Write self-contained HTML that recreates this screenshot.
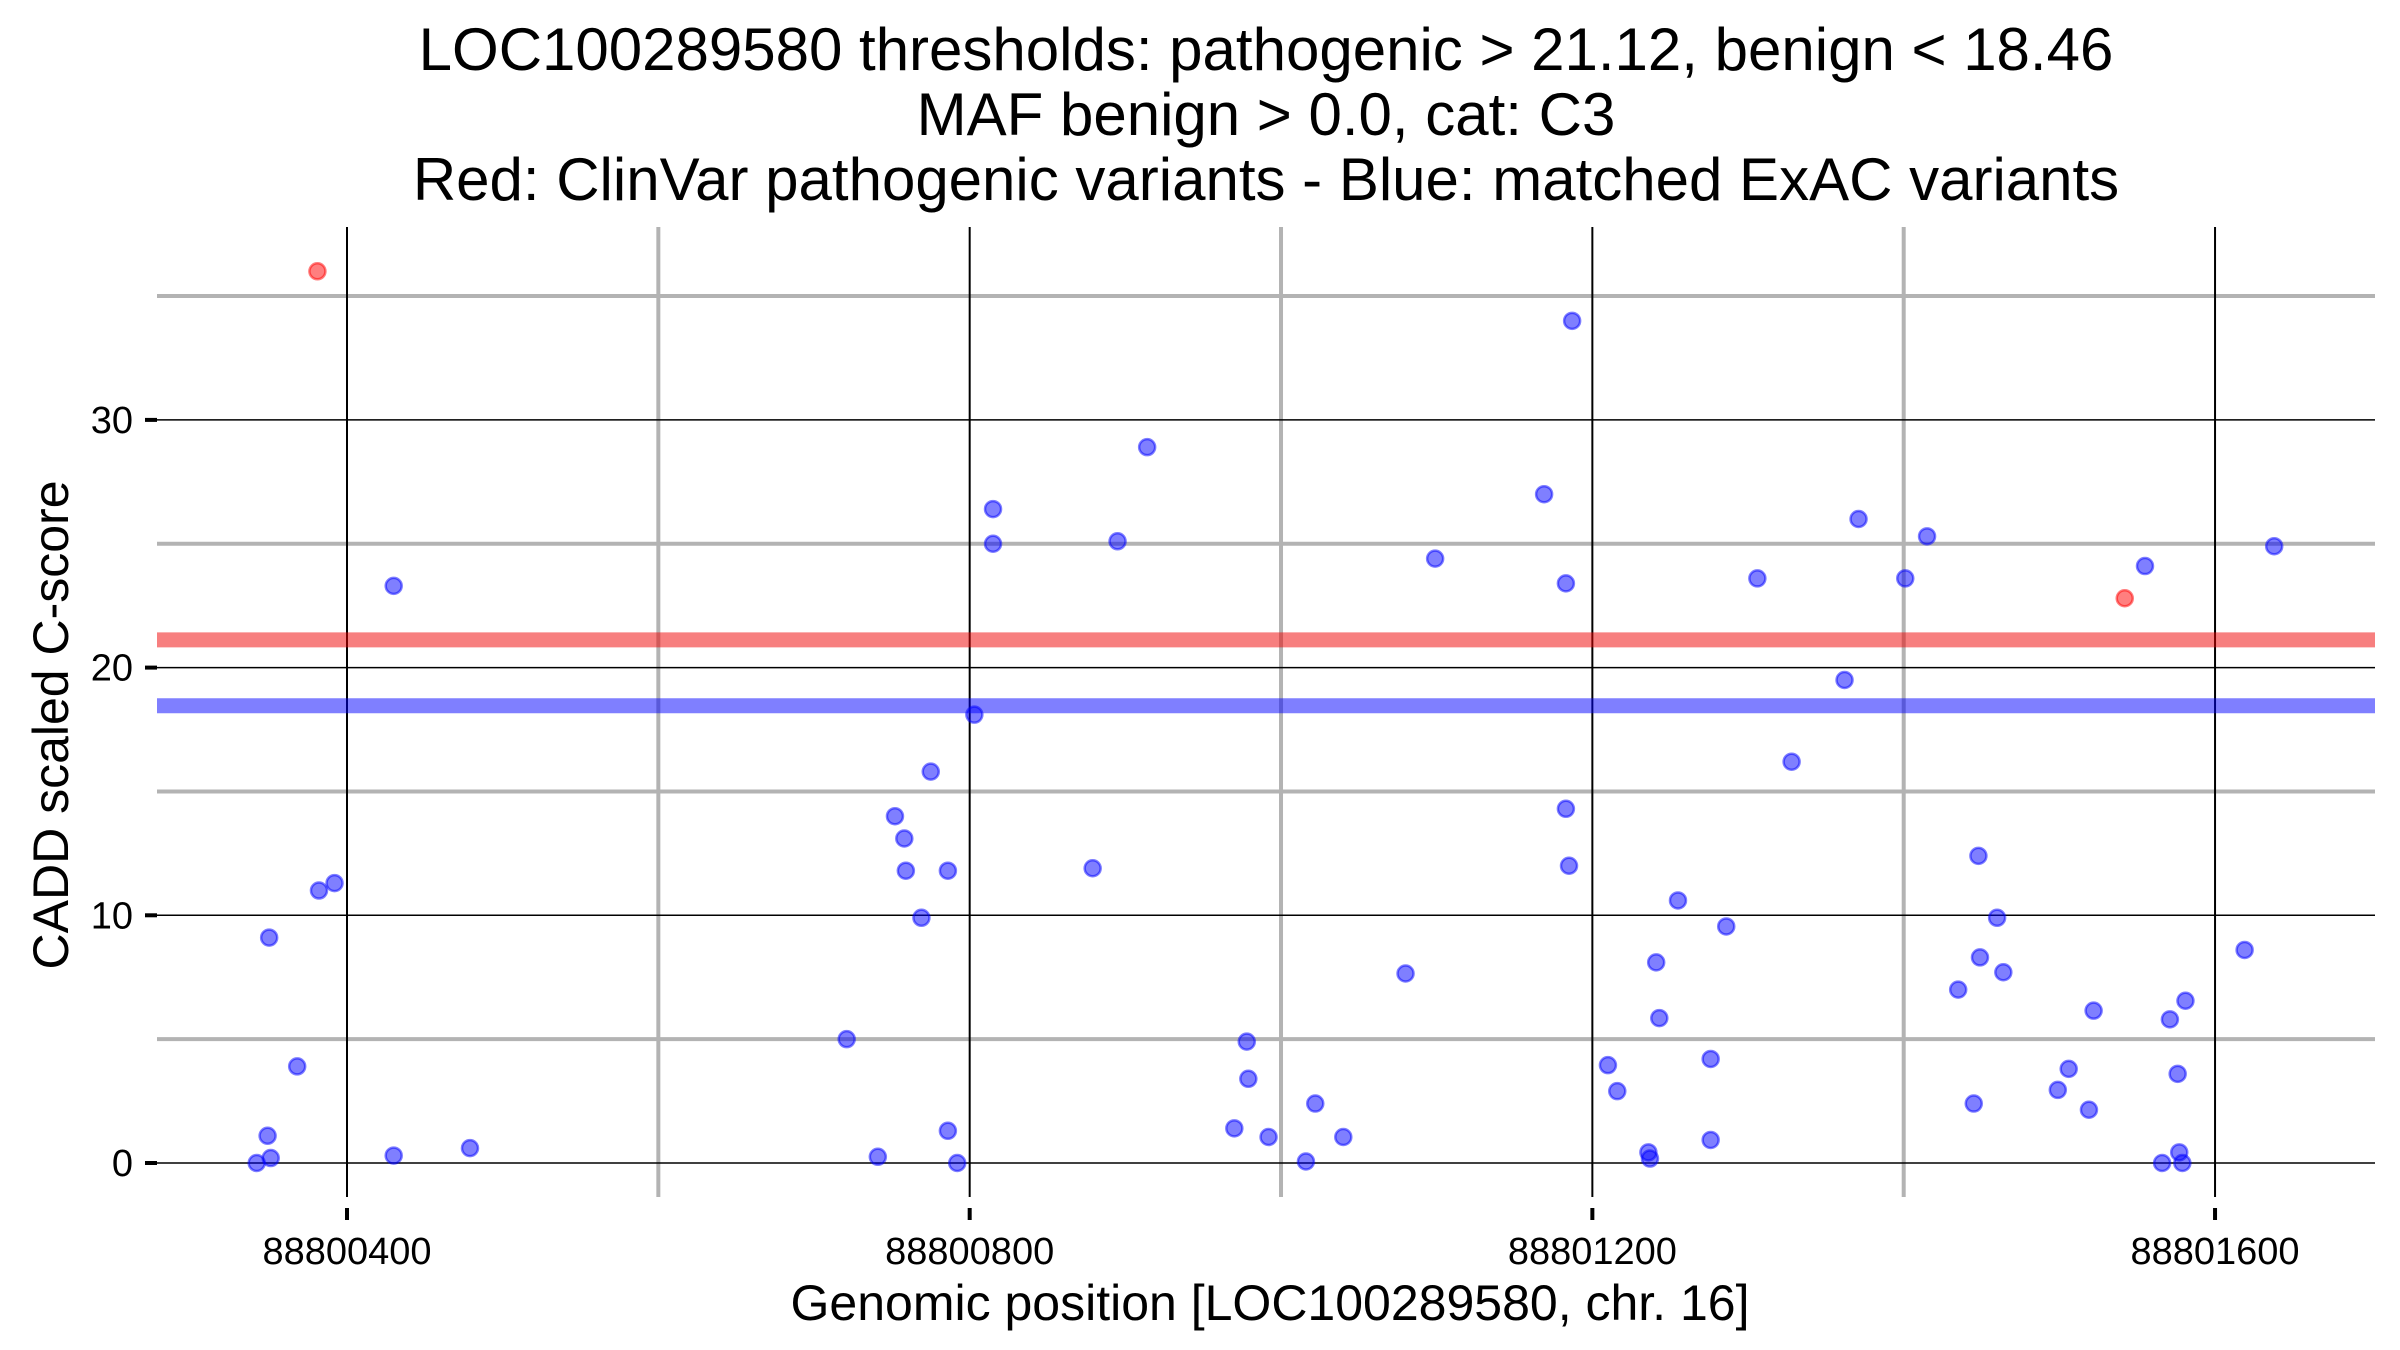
<!DOCTYPE html>
<html><head><meta charset="utf-8"><style>
html,body{margin:0;padding:0;background:#fff;}
svg{display:block;font-family:"Liberation Sans",Arial,sans-serif;}
</style></head><body>
<svg id="chart" width="2400" height="1350" viewBox="0 0 2400 1350" xmlns="http://www.w3.org/2000/svg">
<g id="title" font-size="60" text-anchor="middle" fill="#000">
<text x="1266" y="70">LOC100289580 thresholds: pathogenic &gt; 21.12, benign &lt; 18.46</text>
<text x="1266" y="135">MAF benign &gt; 0.0, cat: C3</text>
<text x="1266" y="200">Red: ClinVar pathogenic variants - Blue: matched ExAC variants</text>
</g>
<g id="grid"></g>
<g id="thresholds"></g>
<g id="points"></g>
<g id="axes"></g>
<text x="1270" y="1320" font-size="50" text-anchor="middle">Genomic position [LOC100289580, chr. 16]</text>
<text transform="translate(68,725) rotate(-90)" font-size="50" text-anchor="middle">CADD scaled C-score</text>
</svg>
<script>
const xTicks = [88800400, 88800800, 88801200, 88801600];
const xMinor = [88800600, 88801000, 88801400];
const yTicks = [0, 10, 20, 30];
const yMinor = [5, 15, 25, 35];
const thresholdPathogenic = 21.12;
const thresholdBenign = 18.46;
const bluePos = [88800342,88800349,88800351,88800350,88800368,88800382,88800392,88800430,88800430,88800479,88800721,88800741,88800752,88800758,88800759,88800769,88800775,88800786,88800786,88800792,88800803,88800815,88800815,88800879,88800895,88800914,88800970,88800978,88800979,88800992,88801016,88801022,88801040,88801080,88801099,88801169,88801183,88801183,88801185,88801187,88801210,88801216,88801236,88801237,88801241,88801243,88801255,88801276,88801276,88801286,88801306,88801328,88801362,88801371,88801401,88801415,88801435,88801445,88801448,88801449,88801460,88801464,88801499,88801506,88801519,88801522,88801555,88801566,88801571,88801576,88801577,88801579,88801581,88801619,88801638];
const blueScore = [0,1.1,0.2,9.1,3.9,11.0,11.3,23.3,0.3,0.6,5.0,0.25,14.0,13.1,11.8,9.9,15.8,1.3,11.8,0,18.1,26.4,25.0,11.9,25.1,28.9,1.4,4.9,3.4,1.05,0.06,2.4,1.05,7.65,24.4,27.0,14.3,23.4,12.0,34.0,3.95,2.9,0.43,0.18,8.1,5.85,10.6,4.2,0.93,9.55,23.6,16.2,19.5,26.0,23.6,25.3,7.0,2.4,12.4,8.3,9.9,7.7,2.95,3.8,2.15,6.15,24.1,0,5.8,3.6,0.43,0,6.55,8.6,24.9];
const redPos = [88800381, 88801542];
const redScore = [36.0, 22.8];

const NS = "http://www.w3.org/2000/svg";
const L = 157, R = 2375, T = 227, B = 1197;
function xs(v){ return 347 + (v - 88800400) * 1.5567; }
function ys(v){ return 1163 - 24.77 * v; }
function mk(tag, attrs, parent){ const e = document.createElementNS(NS, tag); for (const k in attrs) e.setAttribute(k, attrs[k]); parent.appendChild(e); return e; }

const grid = document.getElementById('grid');
yMinor.forEach(v => { const e = mk('line',{x1:L,x2:R,y1:ys(v),y2:ys(v),stroke:'#b3b3b3','stroke-width':4},grid);

 });
xMinor.forEach(v => { const e = mk('line',{x1:xs(v),x2:xs(v),y1:T,y2:B,stroke:'#b3b3b3','stroke-width':4},grid);

 });
yTicks.forEach(v => { const e = mk('line',{x1:L,x2:R,y1:ys(v),y2:ys(v),stroke:'#000','stroke-width':1.5},grid);

 });
xTicks.forEach(v => { const e = mk('line',{x1:xs(v),x2:xs(v),y1:T,y2:B,stroke:'#000','stroke-width':2},grid);

 });

const th = document.getElementById('thresholds');
const tp = mk('line',{x1:L,x2:R,y1:ys(thresholdPathogenic),y2:ys(thresholdPathogenic),stroke:'rgba(240,0,0,0.5)','stroke-width':15},th);


const tb = mk('line',{x1:L,x2:R,y1:ys(thresholdBenign),y2:ys(thresholdBenign),stroke:'rgba(0,0,255,0.5)','stroke-width':15},th);



const pts = document.getElementById('points');
bluePos.forEach((p,i) => { const c = mk('circle',{cx:xs(p),cy:ys(blueScore[i]),r:8,fill:'rgba(0,0,255,0.5)',stroke:'rgba(0,0,255,0.5)','stroke-width':2.5},pts);

 });
redPos.forEach((p,i) => { const c = mk('circle',{cx:xs(p),cy:ys(redScore[i]),r:8,fill:'rgba(255,0,0,0.5)',stroke:'rgba(255,0,0,0.5)','stroke-width':2.5},pts);

 });

const ax = document.getElementById('axes');
xTicks.forEach(v => {
  const t = mk('line',{x1:xs(v),x2:xs(v),y1:1208,y2:1220,stroke:'#000','stroke-width':4},ax);
  
  
  const l = mk('text',{x:xs(v),y:1264,'font-size':38,'text-anchor':'middle'},ax);
  l.textContent = String(v);
  
  
});
yTicks.forEach(v => {
  const t = mk('line',{x1:145,x2:157,y1:ys(v),y2:ys(v),stroke:'#000','stroke-width':4},ax);
  
  
  const l = mk('text',{x:133,y:ys(v)+13,'font-size':38,'text-anchor':'end'},ax);
  l.textContent = String(v);
  
  
});
</script>
</body></html>
